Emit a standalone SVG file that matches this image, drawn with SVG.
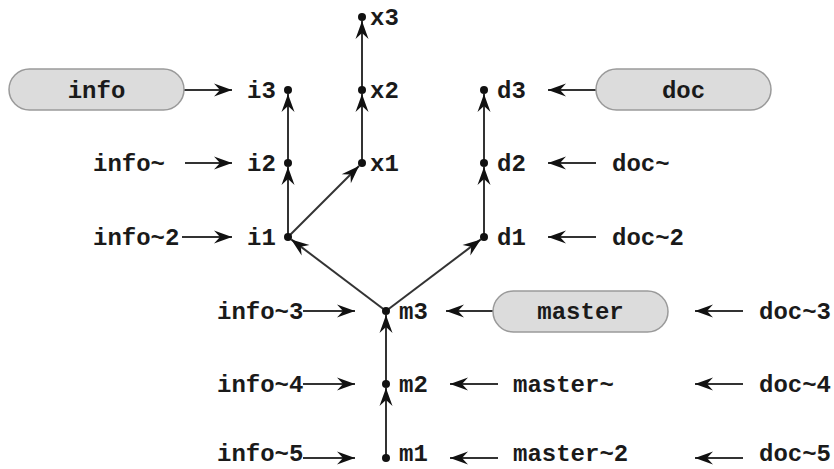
<svg xmlns="http://www.w3.org/2000/svg" width="834" height="469" viewBox="0 0 834 469" font-family="'Liberation Mono', 'Courier New', 'DejaVu Sans Mono', monospace">
<style>
text{font-family:"Liberation Mono","Courier New","DejaVu Sans Mono",monospace;font-weight:bold;font-size:24px;fill:#1a1a1a}
.e{stroke:#333;stroke-width:2;fill:none;marker-end:url(#ah)}
.dot{fill:#111}
.pill{fill:#dcdcdc;stroke:#9a9a9a;stroke-width:1.5}
.mid{text-anchor:middle}
</style>
<defs>
<marker id="ah" markerUnits="userSpaceOnUse" markerWidth="24" markerHeight="16" viewBox="-20 -8 22 16" refX="0" refY="0" orient="auto">
<path d="M0,0 L-18,-6.5 L-12,0 L-18,6.5 Z" fill="#111"/>
</marker>
</defs>
<g id="connectors">
<line class="e" x1="288" y1="237" x2="288" y2="167"/>
<line class="e" x1="288" y1="163" x2="288" y2="94"/>
<line class="e" x1="362" y1="163" x2="362" y2="94"/>
<line class="e" x1="362" y1="90" x2="362" y2="21"/>
<line class="e" x1="288" y1="237" x2="359" y2="166"/>
<line class="e" x1="386" y1="311" x2="291.2" y2="239.4"/>
<line class="e" x1="386" y1="311" x2="480.8" y2="239.4"/>
<line class="e" x1="484" y1="237" x2="484" y2="167"/>
<line class="e" x1="484" y1="163" x2="484" y2="94"/>
<line class="e" x1="386" y1="458" x2="386" y2="388"/>
<line class="e" x1="386" y1="384" x2="386" y2="315"/>
<line class="e" x1="184" y1="90" x2="232" y2="90"/>
<line class="e" x1="185" y1="163" x2="232" y2="163"/>
<line class="e" x1="182" y1="237" x2="232" y2="237"/>
<line class="e" x1="303" y1="311" x2="355" y2="311"/>
<line class="e" x1="303" y1="384" x2="355" y2="384"/>
<line class="e" x1="303" y1="458" x2="355" y2="458"/>
<line class="e" x1="493" y1="311" x2="446" y2="311"/>
<line class="e" x1="498" y1="384" x2="450" y2="384"/>
<line class="e" x1="498" y1="458" x2="450" y2="458"/>
<line class="e" x1="596" y1="90" x2="548" y2="90"/>
<line class="e" x1="596" y1="163" x2="548" y2="163"/>
<line class="e" x1="596" y1="237" x2="548" y2="237"/>
<line class="e" x1="743" y1="311" x2="695" y2="311"/>
<line class="e" x1="743" y1="384" x2="695" y2="384"/>
<line class="e" x1="743" y1="458" x2="695" y2="458"/>
</g>
<g id="x3"><circle class="dot" cx="362" cy="17" r="4"/><text x="370" y="25">x3</text></g>
<g id="x2"><circle class="dot" cx="362" cy="90" r="4"/><text x="370" y="98">x2</text></g>
<g id="x1"><circle class="dot" cx="362" cy="163" r="4"/><text x="370" y="171">x1</text></g>
<g id="i3"><circle class="dot" cx="288" cy="90" r="4"/><text x="247" y="98">i3</text></g>
<g id="i2"><circle class="dot" cx="288" cy="163" r="4"/><text x="247" y="171">i2</text></g>
<g id="i1"><circle class="dot" cx="288" cy="237" r="4"/><text x="247" y="245">i1</text></g>
<g id="d3"><circle class="dot" cx="484" cy="90" r="4"/><text x="497" y="98">d3</text></g>
<g id="d2"><circle class="dot" cx="484" cy="163" r="4"/><text x="497" y="171">d2</text></g>
<g id="d1"><circle class="dot" cx="484" cy="237" r="4"/><text x="497" y="245">d1</text></g>
<g id="m3"><circle class="dot" cx="386" cy="311" r="4"/><text x="399" y="319">m3</text></g>
<g id="m2"><circle class="dot" cx="386" cy="384" r="4"/><text x="399" y="392">m2</text></g>
<g id="m1"><circle class="dot" cx="386" cy="458" r="4"/><text x="399" y="461">m1</text></g>
<g id="info"><rect class="pill" x="9" y="69" width="175" height="41" rx="20.5"/><text class="mid" x="96.5" y="98">info</text></g>
<g id="doc"><rect class="pill" x="596" y="69" width="175" height="41" rx="20.5"/><text class="mid" x="683.5" y="98">doc</text></g>
<g id="master"><rect class="pill" x="493" y="291" width="175" height="41" rx="20.5"/><text class="mid" x="580.5" y="319">master</text></g>
<g id="info-1"><text x="93" y="171">info~</text></g>
<g id="info-2"><text x="93" y="245">info~2</text></g>
<g id="info-3"><text x="217" y="319">info~3</text></g>
<g id="info-4"><text x="217" y="392">info~4</text></g>
<g id="info-5"><text x="217" y="461">info~5</text></g>
<g id="doc-1"><text x="612" y="171">doc~</text></g>
<g id="doc-2"><text x="612" y="245">doc~2</text></g>
<g id="doc-3"><text x="759" y="319">doc~3</text></g>
<g id="doc-4"><text x="759" y="392">doc~4</text></g>
<g id="doc-5"><text x="759" y="461">doc~5</text></g>
<g id="master-1"><text x="513" y="392">master~</text></g>
<g id="master-2"><text x="513" y="461">master~2</text></g>
</svg>
